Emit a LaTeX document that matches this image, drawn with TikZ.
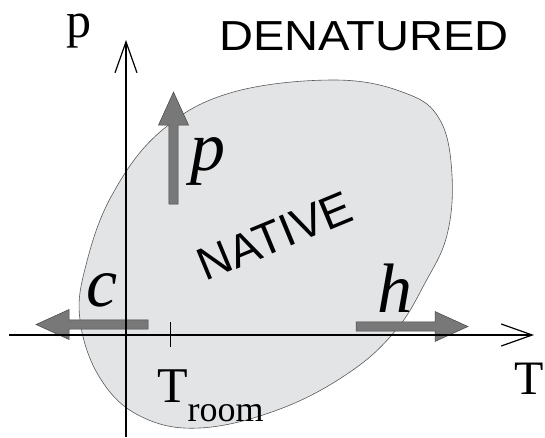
\documentclass[tikz,border=0pt]{standalone}
\usepackage{fontspec}
\setmainfont{Liberation Serif}
\setsansfont{Liberation Sans}
\usetikzlibrary{arrows.meta}
\definecolor{PhaseFill}{HTML}{E3E4E6}
\definecolor{PhaseEdge}{HTML}{5A5A5A}
\definecolor{ShiftGray}{HTML}{787878}
\definecolor{ShiftEdge}{HTML}{454545}

\begin{document}
\begin{tikzpicture}[x=1pt,y=-1pt,inner sep=0pt]
    \tikzset{axis/.style={line width=1.2pt,-{Straight Barb[length=31pt,width=22pt]}},
      shiftarrow/.style={fill=ShiftGray,draw=ShiftEdge,line width=0.5pt},
      phase/.style={font=\sffamily\fontsize{42}{42}\selectfont},
      varlabel/.style={font=\itshape\fontsize{70}{70}\selectfont},
      axislabel/.style={font=\fontsize{50}{50}\selectfont}}
    \useasboundingbox (0,0) rectangle (545,437);
    % native region
    \draw[fill=PhaseFill,draw=PhaseEdge,line width=0.6pt] plot[smooth cycle,tension=0.65] coordinates {
      (334,80) (405,93) (440,120) (452,175) (447,235) (425,283) (396,330) (350,372)
      (280,409) (200,428) (140,416) (100,378) (80,320) (86,265) (112,195) (160,132) (230,93)};
    % shift arrows: p, c, h
    \foreach \tx/\ty/\ang in {173.5/204/90,148/324.5/180,356/326.5/0}{
      \begin{scope}[shift={(\tx,\ty)},rotate=\ang]
        \draw[shiftarrow] (0,-4.7) -- (79,-4.7) -- (79,-15) -- (112,0) -- (79,15) -- (79,4.7) -- (0,4.7) -- cycle;
      \end{scope}}
    % axes
    \coordinate (pbot) at (126,437);
    \coordinate (ptop) at (126,40);
    \coordinate (tleft) at (9,335);
    \coordinate (tright) at (534,335);
    \draw[axis] (pbot) -- (ptop);
    \draw[axis] (tleft) -- (tright);
    \coordinate (tick) at (170.5,335);
    \draw[line width=0.6pt] ([yshift=13pt]tick) -- ([yshift=-12pt]tick);
    % labels
    \node[axislabel] (plab) at (78.5,31.5) {p};
    \node[axislabel,font=\fontsize{48}{48}\selectfont] (tlab) at (529,379) {T};
    \node[axislabel,anchor=base west] (troom) at (157,402) {T\raisebox{-19pt}{\fontsize{36}{36}\selectfont room}};
    \node[phase,xscale=1.12] (denat) at (364,36) {DENATURED};
    \node[phase,font=\sffamily\fontsize{46}{46}\selectfont,rotate=22.5] (native) at (275,236) {NATIVE};
    \node[varlabel] (pvar) at (208,161) {p};
    \node[varlabel] (cvar) at (102,290) {c};
    \node[varlabel] (hvar) at (395,288) {h};
  \end{tikzpicture}
\end{document}
